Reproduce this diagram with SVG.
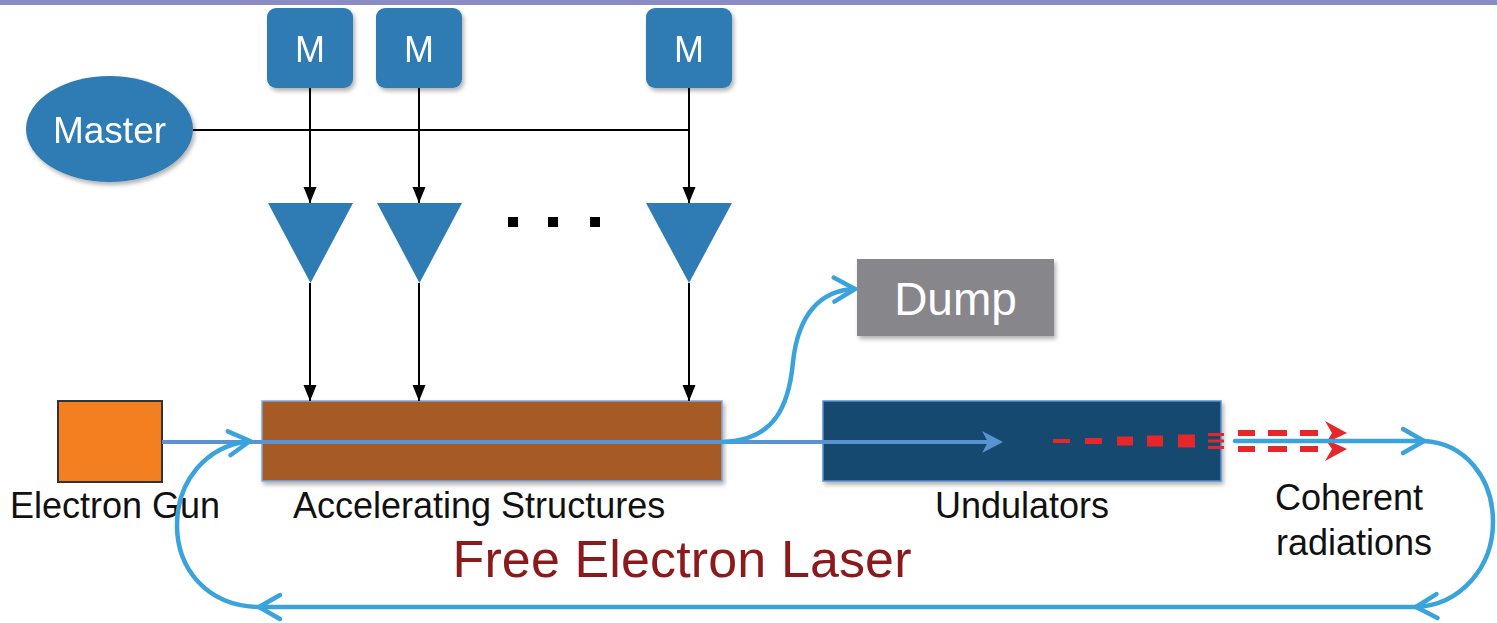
<svg xmlns="http://www.w3.org/2000/svg" width="1497" height="623" viewBox="0 0 1497 623">
<style>
  .blue { fill: #2e7cb3; }
  .wt { fill: #ffffff; font-family: "Liberation Sans", Arial, sans-serif; text-anchor: middle; }
  .lbl { fill: #111111; font-family: "Liberation Sans", Arial, sans-serif; font-size: 36px; }
  .sig { stroke: #000; stroke-width: 2; fill: none; }
  .loop { stroke: #3ba3dc; stroke-width: 4.5; fill: none; stroke-linecap: round; }
  .beam { stroke: #5b92d0; stroke-width: 4; fill: none; }
  .red { fill: #e5272a; }
</style>
<defs>
  <filter id="sh" x="-10%" y="-10%" width="130%" height="140%">
    <feDropShadow dx="2" dy="3" stdDeviation="2" flood-color="#000" flood-opacity="0.3"/>
  </filter>
  <marker id="ah" markerUnits="userSpaceOnUse" markerWidth="16" markerHeight="16" viewBox="0 0 16 16" refX="16" refY="8" orient="auto">
    <path d="M0,1.5 L16,8 L0,14.5 Z" fill="#000"/>
  </marker>
  <marker id="chev" markerUnits="userSpaceOnUse" markerWidth="32" markerHeight="32" viewBox="0 0 32 32" refX="28" refY="16" orient="auto">
    <path d="M7,4 L28,16 L7,28" fill="none" stroke="#3ba3dc" stroke-width="4.5" stroke-linecap="round" stroke-linejoin="round"/>
  </marker>
</defs>

<rect x="0" y="0" width="1497" height="5" fill="#8b8bc6"/>

<g id="master" filter="url(#sh)">
  <ellipse cx="109.5" cy="129" rx="83.5" ry="53" class="blue"/>
  <text x="109.5" y="143" class="wt" font-size="37">Master</text>
</g>
<g id="m1" filter="url(#sh)">
  <rect x="267" y="8" width="86" height="80" rx="9" class="blue"/>
  <text x="310" y="62" class="wt" font-size="36">M</text>
</g>
<g id="m2" filter="url(#sh)">
  <rect x="376" y="8" width="86" height="80" rx="9" class="blue"/>
  <text x="419" y="62" class="wt" font-size="36">M</text>
</g>
<g id="m3" filter="url(#sh)">
  <rect x="646" y="8" width="86" height="80" rx="9" class="blue"/>
  <text x="689" y="62" class="wt" font-size="36">M</text>
</g>

<g id="amp1"><polygon points="268,203 353,203 310.5,283" class="blue"/></g>
<g id="amp2"><polygon points="377,203 462,203 419.5,283" class="blue"/></g>
<g id="amp3"><polygon points="646,203 732,203 689,283" class="blue"/></g>
<g id="dots" fill="#000">
  <rect x="508" y="217" width="10" height="10"/>
  <rect x="548" y="217" width="10" height="10"/>
  <rect x="590" y="217" width="10" height="10"/>
</g>

<g id="gun">
  <rect x="58" y="401" width="104" height="81" fill="#f47f20" stroke="#333" stroke-width="2"/>
  <text x="10" y="518" class="lbl">Electron Gun</text>
</g>
<g id="accel">
  <rect x="262" y="401" width="460" height="80" fill="#a65a26" stroke="#7fa8dc" stroke-width="1.5" filter="url(#sh)"/>
  <text x="293" y="518" class="lbl">Accelerating Structures</text>
</g>
<g id="undulator">
  <rect x="823" y="401" width="398" height="80" fill="#154870" stroke="#5b8fcf" stroke-width="1.5" filter="url(#sh)"/>
  <text x="1022" y="518" class="lbl" text-anchor="middle">Undulators</text>
</g>
<g id="dump">
  <rect x="857" y="259" width="197" height="77" fill="#87878b" filter="url(#sh)"/>
  <text x="955.5" y="315" class="wt" font-size="46">Dump</text>
</g>
<g id="radiation">
  <rect x="1053" y="439" width="17" height="4" class="red"/>
  <rect x="1085" y="438" width="17" height="6" class="red"/>
  <rect x="1117" y="436.5" width="16" height="9" class="red"/>
  <rect x="1147" y="435.5" width="16" height="11" class="red"/>
  <rect x="1178" y="434.5" width="17" height="13" class="red"/>
  <rect x="1208" y="433" width="16" height="3" class="red"/>
  <rect x="1208" y="439.5" width="16" height="3" class="red"/>
  <rect x="1208" y="446" width="16" height="3" class="red"/>
  <rect x="1238" y="430" width="17" height="6" class="red"/>
  <rect x="1268" y="430" width="19" height="6" class="red"/>
  <rect x="1300" y="430" width="18" height="6" class="red"/>
  <rect x="1238" y="446" width="17" height="6" class="red"/>
  <rect x="1268" y="446" width="19" height="6" class="red"/>
  <rect x="1300" y="446" width="18" height="6" class="red"/>
  <path d="M1325,421 L1347,433 L1326,443 L1332,433 Z" class="red"/>
  <path d="M1325,439 L1347,449 L1325,461 L1332,449 Z" class="red"/>
</g>
<g id="labels">
  <text x="1275" y="510" class="lbl">Coherent</text>
  <text x="1276" y="555" class="lbl">radiations</text>
  <text x="682" y="577" fill="#8b1a1d" font-family="'Liberation Sans', Arial, sans-serif" font-size="52" text-anchor="middle" textLength="459">Free Electron Laser</text>
</g>

<g id="connectors">
  <line x1="193" y1="130" x2="689" y2="130" class="sig"/>
  <line x1="310" y1="88" x2="310" y2="203" class="sig" marker-end="url(#ah)"/>
  <line x1="419" y1="88" x2="419" y2="203" class="sig" marker-end="url(#ah)"/>
  <line x1="689" y1="88" x2="689" y2="203" class="sig" marker-end="url(#ah)"/>
  <line x1="310" y1="283" x2="310" y2="401" class="sig" marker-end="url(#ah)"/>
  <line x1="419" y1="283" x2="419" y2="401" class="sig" marker-end="url(#ah)"/>
  <line x1="689" y1="283" x2="689" y2="401" class="sig" marker-end="url(#ah)"/>
  <line x1="162" y1="442" x2="990" y2="442" class="beam"/>
  <path d="M982,431 L1003,442 L982,453 L988,442 Z" fill="#5b92d0"/>
  <path d="M722,442 C775,441 789,405 793,362 C798,315 820,290 855,289" class="loop" marker-end="url(#chev)"/>
  <path d="M1235,441 L1424,441" class="loop" marker-end="url(#chev)"/>
  <path d="M1424,441 C1465,443 1493,478 1493,522 C1493,568 1460,605 1416,607" class="loop" marker-end="url(#chev)"/>
  <path d="M1416,607 L259,607" class="loop" marker-end="url(#chev)"/>
  <path d="M259,607 C206,606 177,568 177,525 C177,482 205,446 250,441" class="loop" marker-end="url(#chev)"/>
</g>
</svg>
